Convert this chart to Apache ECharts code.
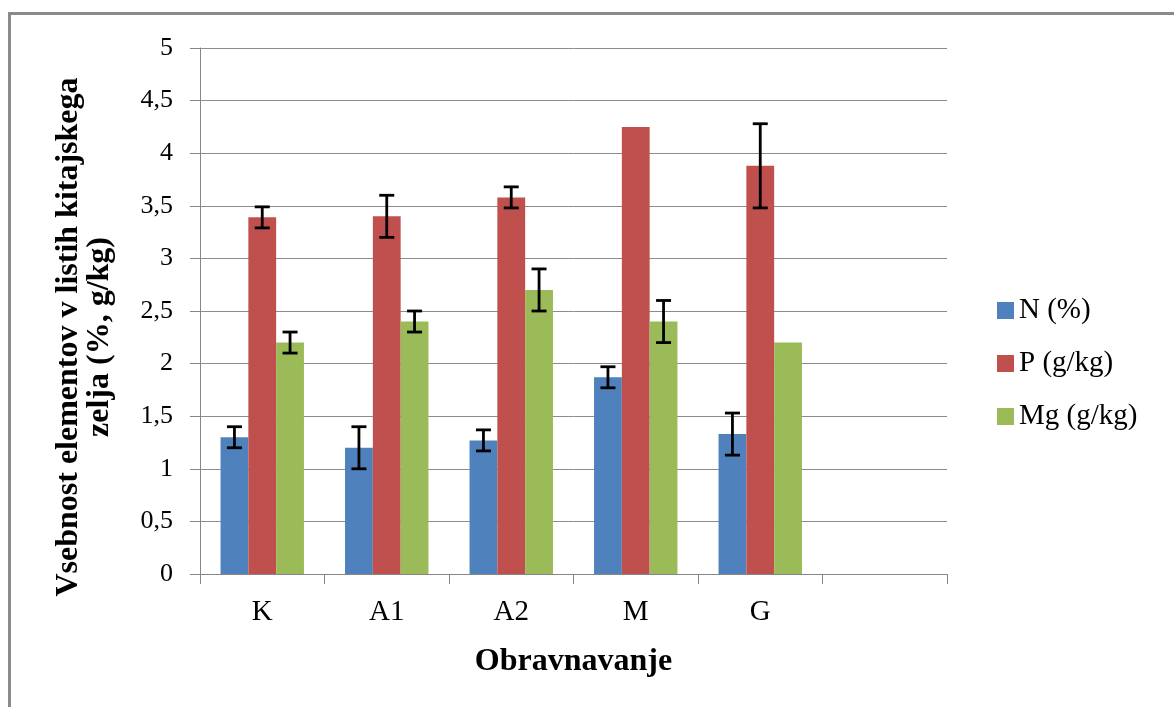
<!DOCTYPE html>
<html>
<head>
<meta charset="utf-8">
<script src="https://cdn.jsdelivr.net/npm/echarts@6/dist/echarts.min.js"></script>
<style>
html,body{margin:0;padding:0;background:#fff;}
#chart{width:1174px;height:707px;}
</style>
</head>
<body>
<div id="chart"></div>
<script>
const categories = ['K', 'A1', 'A2', 'M', 'G', ''];
const seriesNames = ['N (%)', 'P (g/kg)', 'Mg (g/kg)'];
const nValues = [1.30, 1.20, 1.27, 1.87, 1.33, null];
const pValues = [3.39, 3.40, 3.58, 4.25, 3.88, null];
const mgValues = [2.20, 2.40, 2.70, 2.40, 2.20, null];
const nErr = [0.1, 0.2, 0.1, 0.1, 0.2, null];
const pErr = [0.1, 0.2, 0.1, null, 0.4, null];
const mgErr = [0.1, 0.1, 0.2, 0.2, null, null];
const yTicks = [0, 0.5, 1, 1.5, 2, 2.5, 3, 3.5, 4, 4.5, 5];

const colors = ['#4F81BD', '#C0504D', '#9BBB59'];
const FONT = 'Liberation Serif';
const CAT_GAP = 0.33;

function errData(vals, errs) {
  const out = [];
  vals.forEach((v, i) => {
    if (v != null && errs[i] != null) out.push([i, v, errs[i]]);
  });
  return out;
}

function errSeries(idx, vals, errs) {
  return {
    type: 'custom',
    name: seriesNames[idx] + ' err',
    z: 10,
    silent: true,
    data: errData(vals, errs),
    encode: { x: 0, y: 1 },
    renderItem: function (params, api) {
      const ci = api.value(0), v = api.value(1), e = api.value(2);
      const band = api.size([1, 0])[0];
      const bw = band * (1 - CAT_GAP) / 3;
      const off = (idx - 1) * bw;
      const top = api.coord([ci, v + e]);
      const bot = api.coord([ci, v - e]);
      const x = top[0] + off;
      const cap = 7.5;
      const style = { stroke: '#000', lineWidth: 2.8 };
      return {
        type: 'group',
        children: [
          { type: 'line', shape: { x1: x, y1: top[1], x2: x, y2: bot[1] }, style: style },
          { type: 'line', shape: { x1: x - cap, y1: top[1], x2: x + cap, y2: top[1] }, style: style },
          { type: 'line', shape: { x1: x - cap, y1: bot[1], x2: x + cap, y2: bot[1] }, style: style }
        ]
      };
    }
  };
}

const chart = echarts.init(document.getElementById('chart'), null, { renderer: 'canvas' });
const option = {
  animation: false,
  backgroundColor: '#fff',
  textStyle: { fontFamily: FONT },
  graphic: [{
    type: 'rect',
    shape: { x: 9.5, y: 13.5, width: 1300, height: 900 },
    style: { fill: null, stroke: '#8a8a8a', lineWidth: 3 },
    silent: true
  }],
  grid: { left: 200, right: 227, top: 48, bottom: 133, containLabel: false },
  legend: {
    orient: 'vertical',
    left: 997,
    top: 296,
    padding: 0,
    itemWidth: 17,
    itemHeight: 17,
    itemGap: 24,
    icon: 'rect',
    data: seriesNames,
    textStyle: { fontFamily: FONT, fontSize: 29, color: '#000' }
  },
  xAxis: {
    type: 'category',
    data: categories,
    axisLine: { lineStyle: { color: '#868686', width: 1 } },
    axisTick: { show: true, length: 10, alignWithLabel: false, lineStyle: { color: '#868686' } },
    axisLabel: { fontFamily: FONT, fontSize: 29, color: '#000', margin: 24 },
    name: 'Obravnavanje',
    nameLocation: 'middle',
    nameGap: 72,
    nameTextStyle: { fontFamily: FONT, fontSize: 32, fontWeight: 'bold', color: '#000' }
  },
  yAxis: {
    type: 'value',
    min: 0,
    max: 5,
    interval: 0.5,
    axisLine: { show: true, lineStyle: { color: '#868686', width: 1 } },
    axisTick: { show: true, length: 10, lineStyle: { color: '#868686' } },
    splitLine: { show: true, lineStyle: { color: '#8c8c8c', width: 1 } },
    axisLabel: {
      fontFamily: FONT, fontSize: 26, color: '#000', margin: 27,
      formatter: function (v) { return yTicks.indexOf(v) >= 0 ? String(v).replace('.', ',') : ''; }
    },
    name: 'Vsebnost elementov v listih kitajskega\nzelja (%, g/kg)',
    nameLocation: 'middle',
    nameRotate: 90,
    nameGap: 85,
    nameTextStyle: {
      fontFamily: FONT, fontSize: 32, fontWeight: 'bold', color: '#000',
      lineHeight: 31, padding: [0, 52, 0, 0]
    }
  },
  series: [
    { type: 'bar', name: seriesNames[0], data: nValues, itemStyle: { color: colors[0] }, barGap: '0%', barCategoryGap: '33%' },
    { type: 'bar', name: seriesNames[1], data: pValues, itemStyle: { color: colors[1] }, barGap: '0%', barCategoryGap: '33%' },
    { type: 'bar', name: seriesNames[2], data: mgValues, itemStyle: { color: colors[2] }, barGap: '0%', barCategoryGap: '33%' },
    errSeries(0, nValues, nErr),
    errSeries(1, pValues, pErr),
    errSeries(2, mgValues, mgErr)
  ]
};
chart.setOption(option);
</script>
</body>
</html>
